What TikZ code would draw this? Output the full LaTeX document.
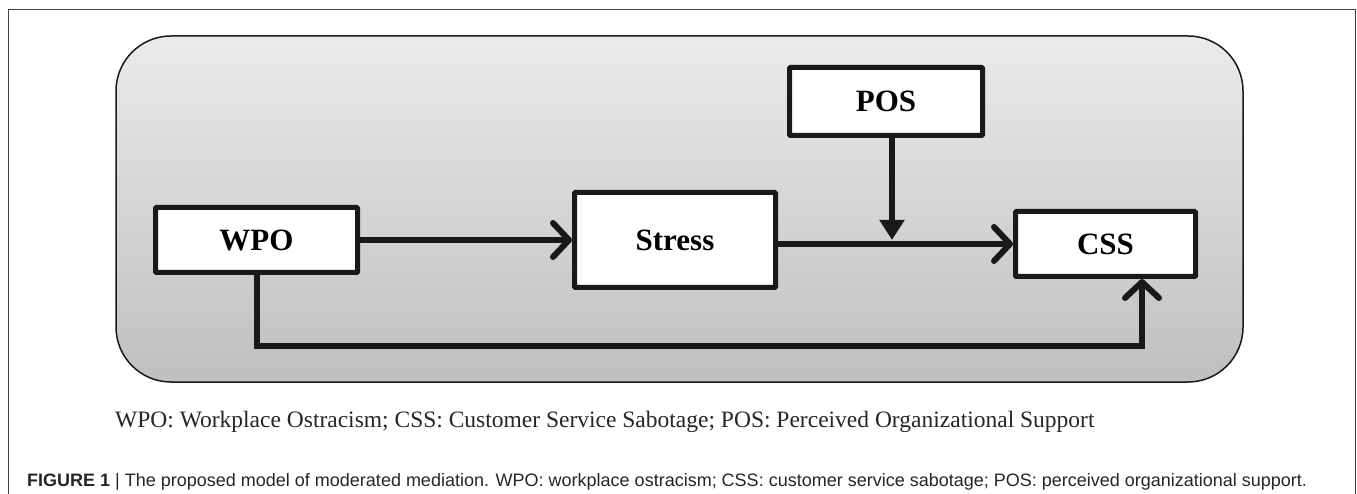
\documentclass[tikz,border=0pt]{standalone}
\usepackage{fontspec}
\setmainfont{Liberation Serif}
\newfontfamily\capsans{Liberation Sans}
\usetikzlibrary{arrows.meta,shadows}
\tikzset{
  varbox/.style={draw=black!90, line width=5pt, fill=white, rounded corners=1pt,
     inner sep=0pt, font=\fontsize{31}{31}\selectfont\bfseries,
     drop shadow={shadow xshift=2pt, shadow yshift=-2pt, opacity=0.25, fill=black}},
  conn/.style={draw=black!90, line width=6pt, line join=miter},
  barb/.style={-{Straight Barb[length=16pt, width=34pt, line cap=round, line join=round]}},
  tri/.style={-{Triangle[length=20pt, width=24pt]}},
}
\begin{document}
\begin{tikzpicture}[x=1pt,y=-1pt]
\useasboundingbox (0,0) rectangle (1357,494);
% outer frame
\draw[black!75, line width=1pt] (8,494) -- (8,10) -- (1355,10) -- (1355,494);
% gray panel
\draw[line width=1.5pt, draw=black!90, rounded corners=55pt, top color=black!8, bottom color=black!25]
  (116,36) rectangle (1243,382);
% boxes
\node[varbox, minimum width=202pt, minimum height=65pt] (wpo) at (256.5,240) {WPO};
\node[varbox, minimum width=201pt, minimum height=95pt] (stress) at (675,240) {Stress};
\node[varbox, minimum width=180pt, minimum height=65pt] (css) at (1105.5,244) {CSS};
\node[varbox, minimum width=193pt, minimum height=68pt] (pos) at (886,101.5) {POS};
% connectors
\draw[conn, barb] (wpo.east) -- (stress.west);
\draw[conn, barb] (stress.east |- css.west) -- (css.west);
\coordinate (m) at (892,240);
\draw[conn, tri] (pos.south -| m) -- (m);
\coordinate (b) at (1142,346);
\draw[conn, barb] (wpo.south) |- (b) -- (b |- css.south);
% captions
\node[anchor=base west, inner sep=0pt, font=\fontsize{23.5}{25}\selectfont, text=black!85] (cap1) at (115,427)
  {WPO: Workplace Ostracism; CSS: Customer Service Sabotage; POS: Perceived Organizational Support};
\node[anchor=base west, inner sep=0pt, font=\capsans\fontsize{18}{20}\selectfont, text=black!85] (cap2) at (27,486)
  {\textbf{FIGURE 1} | The proposed model of moderated mediation. WPO: workplace ostracism; CSS: customer service sabotage; POS: perceived organizational support.};
\end{tikzpicture}
\end{document}
